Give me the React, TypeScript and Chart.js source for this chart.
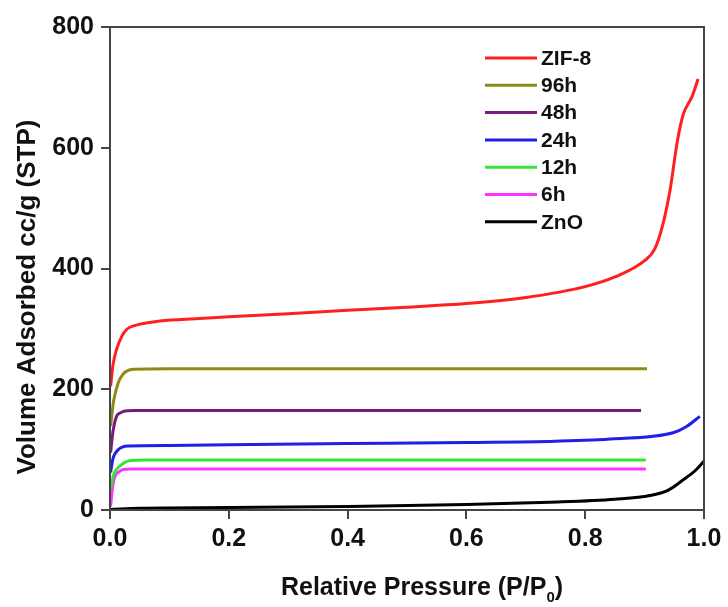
import { useEffect, useRef } from 'react';
import { Chart, registerables } from 'chart.js';

Chart.register(...registerables);

const FONT = '"Liberation Sans", Arial, Helvetica, sans-serif';

const seriesLabels = ['ZIF-8', '96h', '48h', '24h', '12h', '6h', 'ZnO'];
const seriesColors = ['#ff1f1f', '#8c8c14', '#7a1a7a', '#1f1fe8', '#33e633', '#ff33ff', '#000000'];

const xTickValues = [0, 0.2, 0.4, 0.6, 0.8, 1.0];
const yTickValues = [0, 200, 400, 600, 800];

const zif8P = [0.001, 0.005, 0.011, 0.02, 0.028, 0.04, 0.084, 0.15, 0.2, 0.3, 0.4, 0.5, 0.6, 0.7, 0.8, 0.85, 0.9, 0.917, 0.93, 0.943, 0.955, 0.965, 0.98, 0.99];
const zif8V = [205, 240, 266, 288, 299, 305, 313, 317, 320, 325, 331, 336, 342, 352, 370, 386, 413, 432, 470, 531, 610, 655, 685, 714];

const h96P = [0.001, 0.006, 0.014, 0.022, 0.028, 0.04, 0.1, 0.5, 0.904];
const h96V = [139, 180, 211, 225, 230, 233, 234, 234, 234];

const h48P = [0.001, 0.005, 0.011, 0.018, 0.025, 0.04, 0.1, 0.5, 0.894];
const h48V = [95, 130, 155, 161, 164, 165, 165, 165, 165];

const h24P = [0.001, 0.005, 0.014, 0.03, 0.1, 0.2, 0.4, 0.6, 0.75, 0.85, 0.948, 0.97, 0.993];
const h24V = [62, 85, 100, 106, 107, 108, 110, 112, 114, 118, 128, 138, 155];

const h12P = [0.001, 0.006, 0.017, 0.025, 0.035, 0.06, 0.5, 0.902];
const h12V = [34, 58, 73, 79, 82, 83, 83, 83];

const h6P = [0.001, 0.004, 0.0084, 0.015, 0.022, 0.035, 0.5, 0.902];
const h6V = [6, 35, 56, 63, 67, 68, 68, 68];

const znoP = [0.001, 0.05, 0.2, 0.4, 0.6, 0.74, 0.85, 0.909, 0.94, 0.965, 0.985, 1.0];
const znoV = [1, 3, 4, 6, 9, 13, 18, 24, 33, 50, 65, 81];

const seriesP = [zif8P, h96P, h48P, h24P, h12P, h6P, znoP];
const seriesV = [zif8V, h96V, h48V, h24V, h12V, h6V, znoV];

const xTitleMain = 'Relative Pressure (P/P';
const xTitleSub = '0';
const xTitleEnd = ')';
const yTitle = 'Volume Adsorbed cc/g (STP)';

const decorPlugin = {
  id: 'decor',
  afterDraw(chart: any) {
    const ctx = chart.ctx as CanvasRenderingContext2D;
    const a = chart.chartArea;
    ctx.save();
    // frame
    ctx.strokeStyle = '#444444';
    ctx.lineWidth = 2;
    ctx.strokeRect(a.left, a.top, a.right - a.left, a.bottom - a.top);

    // legend
    ctx.font = `bold 21px ${FONT}`;
    ctx.textBaseline = 'middle';
    ctx.textAlign = 'left';
    seriesLabels.forEach((lab, i) => {
      const y = 58 + i * 27.3;
      ctx.strokeStyle = seriesColors[i];
      ctx.lineWidth = 3;
      ctx.beginPath();
      ctx.moveTo(485, y);
      ctx.lineTo(537, y);
      ctx.stroke();
      ctx.fillStyle = '#111111';
      ctx.fillText(lab, 541, y + 1);
    });

    // x title
    ctx.fillStyle = '#111111';
    ctx.textBaseline = 'alphabetic';
    const mainFont = `bold 25px ${FONT}`;
    const subFont = `bold 15px ${FONT}`;
    ctx.font = mainFont;
    const w1 = ctx.measureText(xTitleMain).width;
    const w3 = ctx.measureText(xTitleEnd).width;
    ctx.font = subFont;
    const w2 = ctx.measureText(xTitleSub).width;
    const total = w1 + w2 + w3;
    let x = 422 - total / 2;
    const base = 595;
    ctx.font = mainFont;
    ctx.fillText(xTitleMain, x, base);
    x += w1;
    ctx.font = subFont;
    ctx.fillText(xTitleSub, x, base + 7);
    x += w2;
    ctx.font = mainFont;
    ctx.fillText(xTitleEnd, x, base);

    // y title
    ctx.save();
    ctx.translate(28, 297);
    ctx.rotate(-Math.PI / 2);
    ctx.font = `bold 26px ${FONT}`;
    ctx.textAlign = 'center';
    ctx.textBaseline = 'middle';
    ctx.fillText(yTitle, 0, 0);
    ctx.restore();

    ctx.restore();
  },
};

export default function App() {
  const ref = useRef<HTMLCanvasElement | null>(null);

  useEffect(() => {
    document.body.style.margin = '0';
    const canvas = ref.current;
    if (!canvas) return;
    const datasets = seriesLabels.map((lab, i) => ({
      label: lab,
      data: seriesP[i].map((p, j) => ({ x: p, y: seriesV[i][j] })),
      borderColor: seriesColors[i],
      backgroundColor: seriesColors[i],
      borderWidth: 3,
      pointRadius: 0,
      fill: false,
      cubicInterpolationMode: 'monotone' as const,
      order: i === 0 ? 0 : i,
    }));
    const tickFont = { family: FONT, size: 25, weight: 'bold' as const };
    const chart = new Chart(canvas, {
      type: 'line',
      data: { datasets },
      options: {
        animation: false,
        responsive: false,
        maintainAspectRatio: false,
        layout: { padding: { top: 27, right: 24, left: 0, bottom: 0 } },
        plugins: { legend: { display: false }, tooltip: { enabled: false } },
        scales: {
          x: {
            type: 'linear',
            min: 0,
            max: 1,
            afterBuildTicks: (s: any) => {
              s.ticks = xTickValues.map((v) => ({ value: v }));
            },
            afterFit: (s: any) => {
              s.height = 97;
            },
            ticks: {
              color: '#111111',
              font: tickFont,
              padding: 5,
              maxRotation: 0,
              callback: (v: any) => Number(v).toFixed(1),
            },
            grid: { drawOnChartArea: false, drawTicks: true, tickLength: 9, color: '#444444', lineWidth: 2 },
            border: { display: true, color: '#444444', width: 2 },
          },
          y: {
            type: 'linear',
            min: 0,
            max: 800,
            afterBuildTicks: (s: any) => {
              s.ticks = yTickValues.map((v) => ({ value: v }));
            },
            afterFit: (s: any) => {
              s.width = 110;
            },
            ticks: {
              color: '#111111',
              font: tickFont,
              padding: 7,
              callback: (v: any) => String(v),
            },
            grid: { drawOnChartArea: false, drawTicks: true, tickLength: 9, color: '#444444', lineWidth: 2 },
            border: { display: true, color: '#444444', width: 2 },
          },
        },
      },
      plugins: [decorPlugin],
    });
    return () => chart.destroy();
  }, []);

  return (
    <div style={{ width: 728, height: 607, background: '#ffffff' }}>
      <canvas ref={ref} width={728} height={607} style={{ display: 'block', width: 728, height: 607 }} />
    </div>
  );
}
